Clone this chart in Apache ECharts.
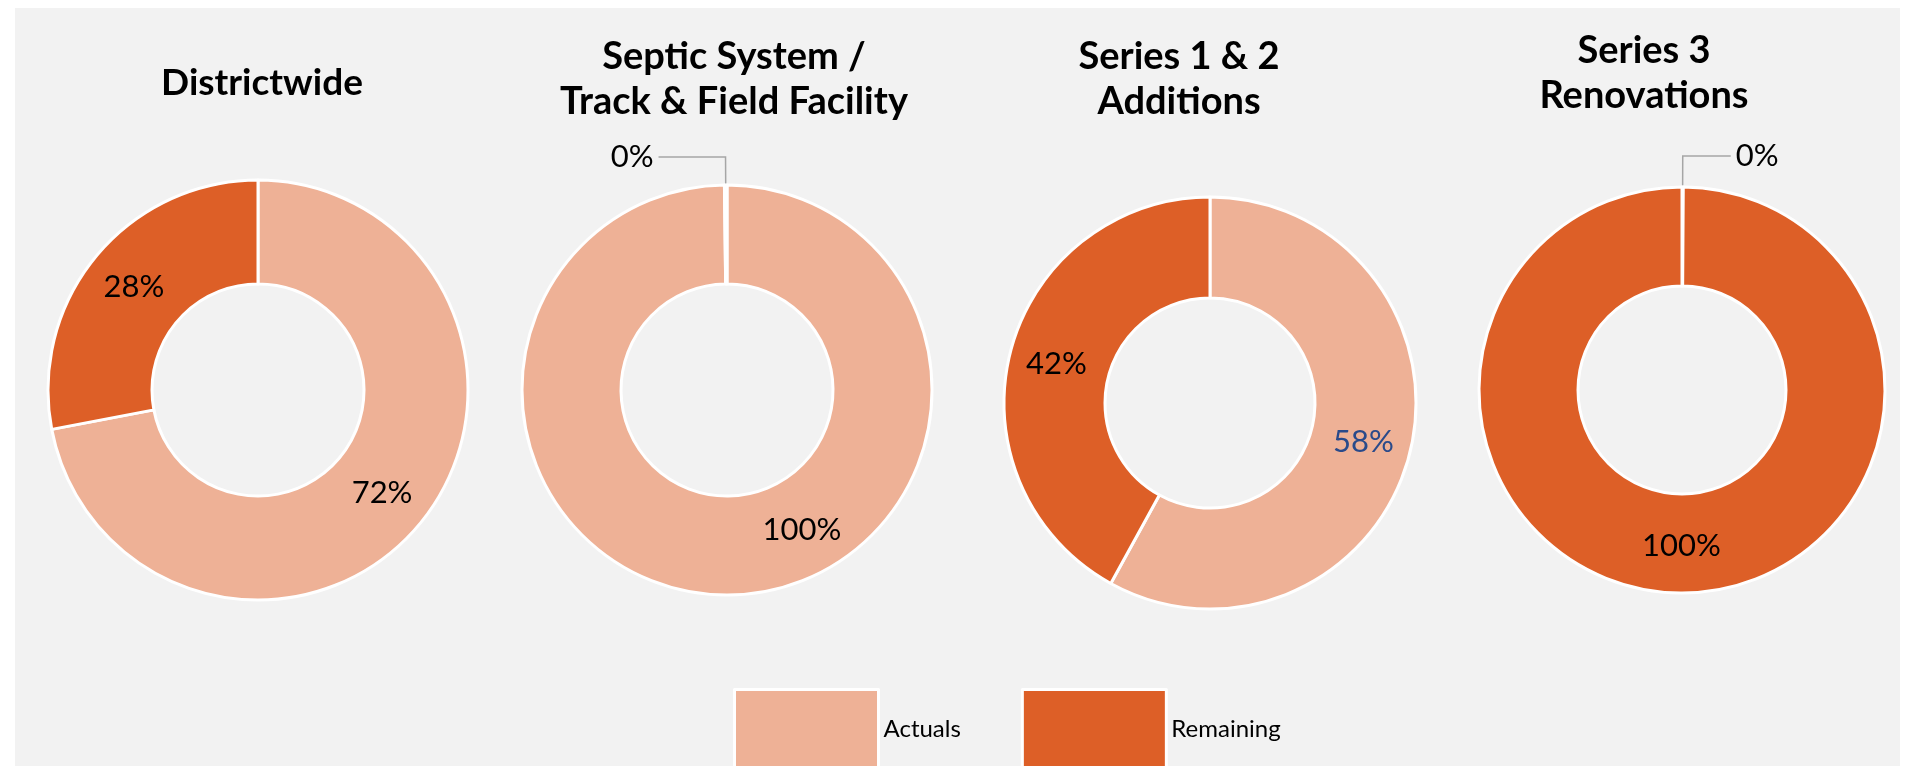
<!DOCTYPE html>
<html><head><meta charset="utf-8">
<script src="https://cdn.jsdelivr.net/npm/echarts@6/dist/echarts.min.js"></script>
<style>html,body{margin:0;padding:0;background:#fff;} #c{width:1920px;height:766px;}</style>
</head><body><div id="c"></div>
<script>
// ---- data ----
const categories = ['Actuals', 'Remaining'];
const chartTitles = ['Districtwide', 'Septic System /\nTrack & Field Facility', 'Series 1 & 2\nAdditions', 'Series 3\nRenovations'];
const districtwide = [72, 28];
const septicTrack = [99.8, 0.2];
const series12 = [58, 42];
const series3 = [0.1, 99.9];
const allValues = [districtwide, septicTrack, series12, series3];

// ---- styles / layout ----
const colors = ['#EEB196', '#DD5F27'];
const layout = [
  { center: [258, 390], radius: [106, 210], title: { x: 262, y: 83, size: 37 }, line: [28, 60] },
  { center: [727, 390], radius: [106, 205], title: { x: 734, y: 79, size: 38 }, line: [28, 67], bigOffset: [74, -18] },
  { center: [1210, 403], radius: [105, 206], title: { x: 1179, y: 79, size: 38 }, line: [28, 60], blueFirst: true },
  { center: [1682, 390], radius: [104, 203], title: { x: 1644, y: 73, size: 38 }, line: [31, 48] }
];

const series = allValues.map((vals, ci) => {
  const L = layout[ci];
  return {
    type: 'pie',
    center: L.center,
    radius: L.radius,
    startAngle: 90,
    clockwise: true,
    avoidLabelOverlap: false,
    animation: false,
    emphasis: { disabled: true },
    itemStyle: { borderColor: '#fff', borderWidth: 3 },
    label: {
      show: true, position: 'inside', fontFamily: 'Lato', fontSize: 31, color: '#000',
      formatter: p => Math.round(p.value) + '%'
    },
    labelLine: { show: false },
    data: vals.map((v, i) => {
      const d = { name: categories[i], value: v, itemStyle: { color: colors[i] } };
      if (Math.round(v) === 0) {
        d.label = { position: 'outside', color: '#000', fontSize: 31, fontFamily: 'Lato', distanceToLabelLine: 5 };
        d.labelLine = { show: true, length: L.line[0], length2: L.line[1], lineStyle: { color: '#A6A6A6', width: 1.5 } };
      } else if (Math.round(v) === 100 && L.bigOffset) {
        d.label = { offset: L.bigOffset };
      }
      if (L.blueFirst && i === 0) d.label = { color: '#2A4A8A' };
      return d;
    })
  };
});

const graphics = [
  { type: 'rect', z: -10, shape: { x: 15, y: 8, width: 1885, height: 758 }, style: { fill: '#F2F2F2' } }
].concat(chartTitles.map((t, ci) => ({
  type: 'text', z: 10,
  style: {
    text: t, x: layout[ci].title.x, y: layout[ci].title.y,
    textAlign: 'center', textVerticalAlign: 'middle',
    font: 'bold ' + layout[ci].title.size + 'px Lato', lineHeight: 45, fill: '#000'
  }
})));

const chart = echarts.init(document.getElementById('c'), null, { renderer: 'canvas' });
chart.setOption({
  animation: false,
  backgroundColor: '#fff',
  graphic: graphics,
  legend: {
    data: categories, left: 733, top: 688, itemWidth: 144, itemHeight: 79, itemGap: 60,
    icon: 'rect', selectedMode: false, padding: 0,
    itemStyle: { borderColor: '#fff', borderWidth: 3 },
    textStyle: { fontFamily: 'Lato', fontSize: 24, color: '#000' }
  },
  series: series
});
</script></body></html>
